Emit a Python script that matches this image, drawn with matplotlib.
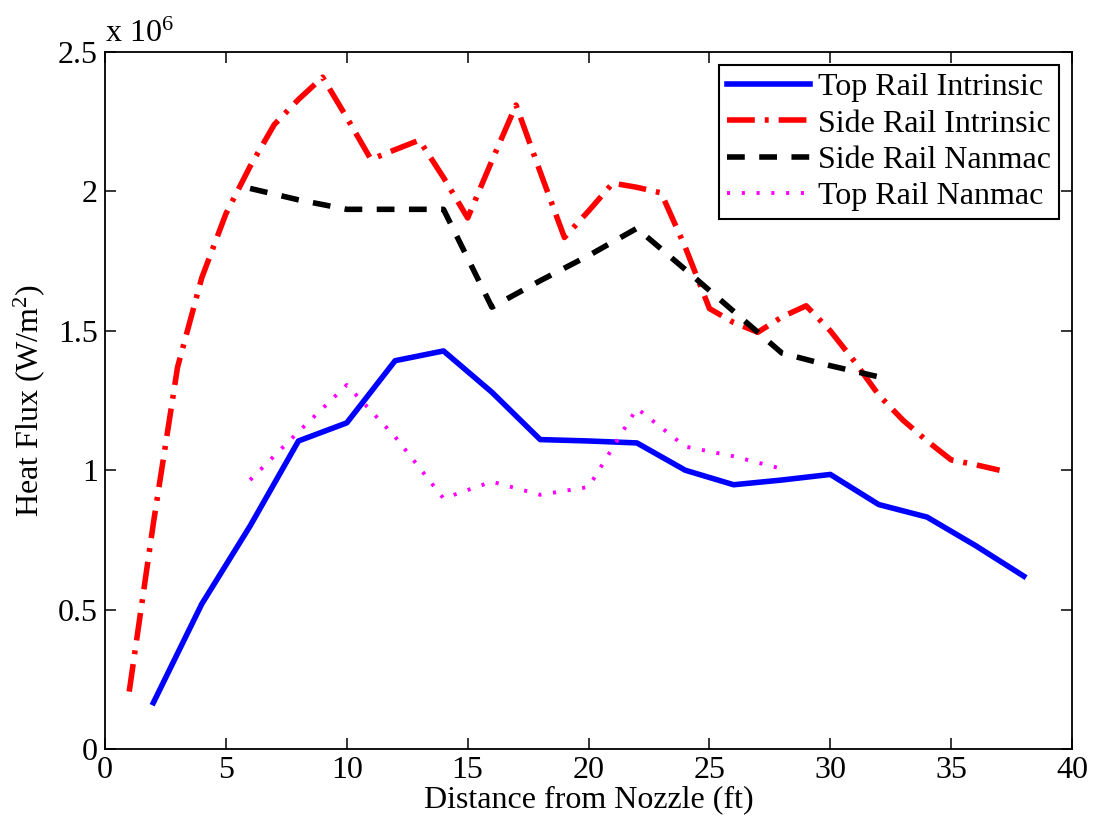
import matplotlib
matplotlib.use("Agg")
import matplotlib.pyplot as plt

plt.rcParams["font.family"] = ["Liberation Serif", "DejaVu Serif"]
plt.rcParams["mathtext.fontset"] = "custom"
plt.rcParams["mathtext.rm"] = "Liberation Serif"
plt.rcParams["mathtext.it"] = "Liberation Serif:italic"

# heat flux values in units of 1e6 W/m^2
top_intr_x = [2, 4, 6, 8, 10, 12, 14, 16, 18, 20, 22, 24, 26, 28, 30, 32, 34, 36, 38]
top_intr_y = [0.166, 0.52, 0.80, 1.105, 1.17, 1.393, 1.428, 1.28, 1.11, 1.105, 1.098,
              1.0, 0.948, 0.965, 0.985, 0.877, 0.832, 0.73, 0.62]

side_intr_x = list(range(1, 38))
side_intr_y = [0.206, 0.81, 1.37, 1.69, 1.92, 2.09, 2.24, 2.33, 2.41, 2.265, 2.115, 2.15,
               2.184, 2.05, 1.905, 2.11, 2.31, 2.07, 1.835, 1.93, 2.03, 2.015, 1.995,
               1.80, 1.58, 1.53, 1.495, 1.55, 1.59, 1.50, 1.39, 1.27, 1.18, 1.105,
               1.037, 1.02, 1.0]

side_nan_x = [6, 8, 10, 12, 14, 16, 18, 20, 22, 24, 26, 28, 30, 32]
side_nan_y = [2.011, 1.97, 1.936, 1.936, 1.936, 1.585, 1.68, 1.77, 1.868, 1.72, 1.57,
              1.42, 1.375, 1.335]

top_nan_x = [6, 8, 10, 12, 14, 16, 18, 20, 22, 24, 26, 28]
top_nan_y = [0.965, 1.138, 1.306, 1.12, 0.899, 0.959, 0.912, 0.94, 1.222, 1.085, 1.05, 1.005]

fig = plt.figure(figsize=(10.94, 8.27), dpi=100)
ax = fig.add_axes([0.096, 0.0943, 0.884, 0.8427])

ax.plot(top_intr_x, top_intr_y, color="blue", lw=4, label="Top Rail Intrinsic")
ax.plot(side_intr_x, side_intr_y, color="red", lw=4, dashes=(5, 1.8, 0.7, 1.8),
        label="Side Rail Intrinsic")
ax.plot(side_nan_x, side_nan_y, color="black", lw=4, dashes=(3.2, 2.6),
        label="Side Rail Nanmac")
ax.plot(top_nan_x, top_nan_y, color="magenta", lw=2.8, dashes=(0.8, 3),
        label="Top Rail Nanmac")

ax.set_xlim(0, 40)
ax.set_ylim(0, 2.5)
ax.set_xticks(range(0, 41, 5))
ax.set_yticks([0, 0.5, 1, 1.5, 2, 2.5])
ax.set_yticklabels(["0", "0.5", "1", "1.5", "2", "2.5"])
ax.tick_params(direction="in", length=8, width=1.1, top=True, right=True,
               labelsize=23, pad=5)
for s in ax.spines.values():
    s.set_linewidth(1.3)

ax.set_xlabel("Distance from Nozzle (ft)", fontsize=23, labelpad=0)
ax.set_ylabel("Heat Flux (W/m$^2$)", fontsize=23, labelpad=8)
ax.text(0.0, 1.005, r"x 10$^{6}$", transform=ax.transAxes, fontsize=23,
        ha="left", va="bottom")

leg = ax.legend(loc="upper right", fontsize=23, frameon=True, fancybox=False,
                edgecolor="black", framealpha=1, handlelength=2.6,
                labelspacing=0.22, borderpad=0.25, handletextpad=0.25,
                borderaxespad=0.4)
leg.get_frame().set_linewidth(1.5)

fig.savefig("out.png", dpi=100)
